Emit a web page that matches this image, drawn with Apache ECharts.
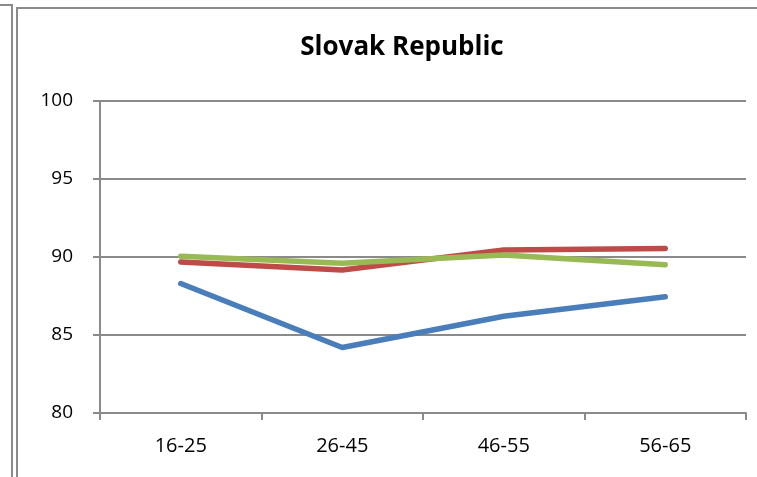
<!DOCTYPE html>
<html><head><meta charset="utf-8">
<script src="https://cdn.jsdelivr.net/npm/echarts@6/dist/echarts.min.js"></script>
<style>html,body{margin:0;padding:0;background:#fff}#c{width:757px;height:477px}</style>
</head><body><div id="c"></div>
<script>
const categories = ['16-25', '26-45', '46-55', '56-65'];
const seriesBlue = [88.3, 84.2, 86.2, 87.45];
const seriesRed = [89.68, 89.17, 90.45, 90.55];
const seriesGreen = [90.05, 89.6, 90.13, 89.5];
const yTicks = [80, 85, 90, 95, 100];
const titleText = 'Slovak Republic';

const chart = echarts.init(document.getElementById('c'), null, {renderer: 'canvas'});
const font = 'Open Sans';
function line(data, color) {
  return {type: 'line', data: data, symbol: 'none', lineStyle: {color: color, width: 5.5, cap: 'round', join: 'round'}, itemStyle: {color: color}, animation: false};
}
chart.setOption({
  animation: false,
  backgroundColor: '#fff',
  title: {text: titleText, left: 397, top: 30, textAlign: 'center',
    textStyle: {fontFamily: font, fontWeight: 'bold', fontSize: 26, color: '#000'}},
  grid: {left: 100, right: 11, top: 101, bottom: 64},
  xAxis: {type: 'category', data: categories, boundaryGap: true,
    axisLine: {lineStyle: {color: '#8a8a8a', width: 2}},
    axisTick: {show: true, length: 7, lineStyle: {color: '#8a8a8a', width: 2}},
    axisLabel: {fontFamily: font, fontSize: 20, color: '#000', margin: 23}},
  yAxis: {type: 'value', min: yTicks[0], max: yTicks[yTicks.length - 1], interval: 5,
    axisLine: {show: true, lineStyle: {color: '#8a8a8a', width: 2}},
    axisTick: {show: true, length: 7, lineStyle: {color: '#8a8a8a', width: 2}},
    splitLine: {lineStyle: {color: '#8a8a8a', width: 2}},
    axisLabel: {fontFamily: font, fontSize: 19, color: '#000', margin: 27}},
  series: [line(seriesBlue, '#4A7EBB'), line(seriesRed, '#BE4B48'), line(seriesGreen, '#98B954')],
  graphic: [
    {type: 'polyline', shape: {points: [[0, 5], [12, 5], [12, 477]]}, style: {stroke: '#8a8a8a', lineWidth: 2, fill: null}},
    {type: 'polyline', shape: {points: [[17, 477], [17, 8], [757, 8]]}, style: {stroke: '#8a8a8a', lineWidth: 2, fill: null}}
  ]
});
</script></body></html>
